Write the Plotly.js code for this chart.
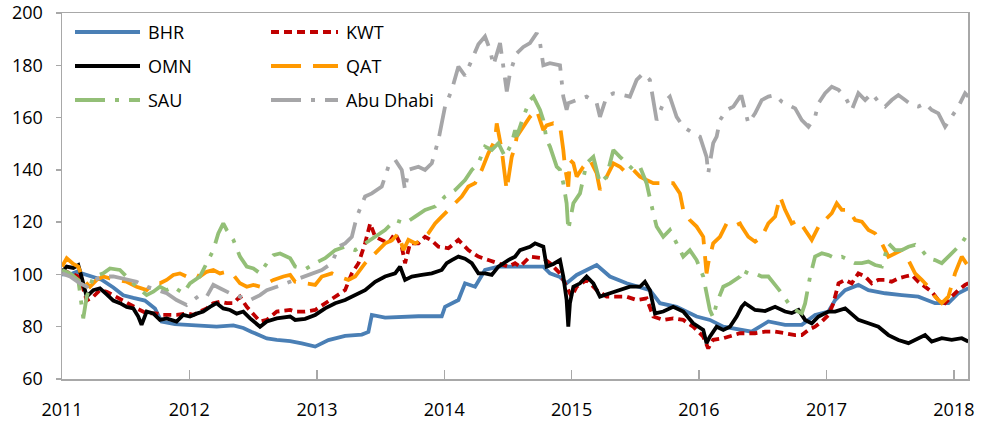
<!DOCTYPE html>
<html>
<head>
<meta charset="utf-8">
<script src="https://cdn.plot.ly/plotly-3.0.1.min.js"></script>
<style>
  html, body { margin: 0; padding: 0; background: #ffffff; }
  #chart { width: 983px; height: 426px; }
</style>
</head>
<body>
<div id="chart"></div>
<script>
// ---- Data (time in decimal years, values = index, Jan 2011 = 100) ----
const seriesNames = ["BHR", "KWT", "OMN", "QAT", "SAU", "Abu Dhabi"];
const xTickLabels = ["2011", "2012", "2013", "2014", "2015", "2016", "2017", "2018"];

const bhrT = [2011.0,2011.063,2011.115,2011.233,2011.311,2011.403,2011.481,2011.560,2011.651,2011.730,2011.782,2011.887,2012.031,2012.214,2012.345,2012.423,2012.489,2012.554,2012.607,2012.685,2012.790,
  2012.881,2012.986,2013.090,2013.221,2013.352,2013.404,2013.431,2013.535,2013.797,2013.980,2014.006,2014.111,2014.163,2014.242,2014.320,2014.425,2014.556,
  2014.778,2014.830,2014.909,2014.961,2015.040,2015.197,2015.301,2015.432,2015.615,2015.694,2015.825,2015.982,2016.086,2016.191,2016.322,
  2016.413,2016.544,2016.675,2016.806,2016.910,2017.015,2017.067,2017.146,2017.250,2017.329,2017.460,2017.591,2017.721,2017.852,2017.957,2018.035,2018.114];
const bhrV = [100,100,101,99,98,95,92,91,90,87,82,81,80.5,80,80.5,79.5,78,76.5,75.5,75,74.5,
  73.6,72.4,74.9,76.5,77,78,84.5,83.5,84,84,87.6,90.2,96.6,95.3,101.7,103,103,
  103,100.4,99,96.6,99.8,103.6,99.2,96.6,94,89,87.6,83.9,82.6,80,78.7,
  78.1,82,80.7,80.7,84.5,85.8,90.2,94,96,94,92.8,92.1,91.5,89,89,92.8,94.7];

const kwtT = [2011.0,2011.063,2011.141,2011.194,2011.246,2011.298,2011.351,2011.403,2011.508,2011.612,2011.665,2011.743,2011.795,2011.900,2011.979,2012.031,2012.083,2012.136,2012.188,2012.240,2012.293,2012.345,2012.397,2012.450,2012.554,2012.607,2012.685,2012.790,
  2012.829,2012.907,2012.986,2013.064,2013.143,2013.221,2013.274,2013.326,2013.378,2013.418,2013.457,2013.509,2013.561,2013.614,2013.666,2013.692,2013.731,2013.797,2013.849,2013.902,2013.954,2014.032,2014.111,2014.189,2014.268,2014.346,2014.425,2014.503,2014.556,
  2014.595,2014.673,2014.778,2014.830,2014.909,2014.961,2015.000,2015.040,2015.118,2015.197,2015.275,2015.354,2015.432,2015.511,2015.589,2015.642,2015.720,2015.798,2015.877,2015.955,2016.034,2016.073,2016.112,2016.191,2016.270,2016.322,
  2016.361,2016.440,2016.518,2016.597,2016.675,2016.754,2016.806,2016.858,2016.910,2016.963,2017.015,2017.054,2017.094,2017.146,2017.198,2017.250,2017.303,2017.355,2017.407,2017.460,2017.512,2017.564,2017.617,2017.669,2017.721,2017.774,2017.826,2017.878,2017.931,2017.983,2018.035,2018.088,2018.114];
const kwtV = [101.7,100.4,99,90,91.5,94,93.4,92,89,86.4,85.1,85.1,84.5,84.5,85.1,84.5,85.8,87,89,89.6,89,89,91.5,87.6,82,82.6,85.8,86.4,
  85.8,85.8,86.4,89,91.5,94,100.4,104.3,111.9,119.5,114.4,113.2,111.9,115.7,110.6,104.3,111.9,111.9,114.4,113,110.6,110,113.2,109.3,106.8,105.5,104.3,103,104.3,
  103,106.8,106.2,104.3,100.4,95.3,91.5,95.3,97.9,94,91.5,91.5,91.5,90.2,90.8,83.9,82.6,83.2,82.6,80,76.2,71.7,75,75.6,76.8,77.5,
  77.5,77.5,78.1,78.1,77.5,76.8,76.8,78.8,80,82,84.5,89,96.6,97.9,96.6,100.4,99.2,96.6,97.9,97.9,97.2,98.5,99.2,99.8,97.2,95.3,93.4,90.2,89,91.5,94,96,96.6];

const omnT = [2011.0,2011.037,2011.089,2011.128,2011.154,2011.194,2011.246,2011.298,2011.351,2011.403,2011.455,2011.508,2011.560,2011.599,2011.625,2011.665,2011.717,2011.769,2011.822,2011.900,2011.952,2012.005,2012.057,2012.109,2012.162,2012.214,2012.266,2012.319,2012.371,2012.423,2012.476,2012.554,2012.607,2012.685,2012.790,
  2012.829,2012.907,2012.986,2013.064,2013.143,2013.221,2013.300,2013.378,2013.457,2013.535,2013.614,2013.653,2013.692,2013.745,2013.823,2013.902,2013.980,2014.019,2014.059,2014.111,2014.163,2014.216,2014.268,2014.320,2014.373,2014.425,2014.503,2014.556,
  2014.595,2014.673,2014.713,2014.778,2014.804,2014.857,2014.909,2014.935,2014.961,2014.974,2014.987,2015.014,2015.066,2015.118,2015.171,2015.223,2015.301,2015.380,2015.458,2015.537,2015.576,2015.615,2015.655,2015.720,2015.798,2015.877,2015.955,2016.034,2016.060,2016.086,2016.139,2016.191,2016.243,2016.296,2016.322,
  2016.335,2016.361,2016.440,2016.518,2016.597,2016.675,2016.727,2016.780,2016.832,2016.884,2016.937,2017.015,2017.067,2017.146,2017.198,2017.250,2017.329,2017.407,2017.486,2017.564,2017.643,2017.721,2017.774,2017.826,2017.905,2017.983,2018.062,2018.114];
const omnV = [101,103,102.5,103.6,99,91.5,94,94.7,92.4,90,89,87.6,87,83.9,80.7,85.8,85.1,82.6,83.2,82,84.5,83.9,85,85.8,87.6,89,87,86.4,85,85.8,83.2,80,82,83.2,83.9,
  82.6,83,84.5,87,89,90.2,92.1,94,97.2,99.2,100.4,103,97.9,99.2,99.8,100.4,101.7,104.3,105.5,106.8,106,104.3,100.4,100.4,99.8,103,105.5,106.8,
  109.3,110.6,111.9,110.6,103,104,105.5,99.2,90.2,80,89,95.3,96.6,99.2,96.6,91.5,92.8,94,95.3,95.3,97.2,94,85.1,85.8,87.6,85.8,81.3,78.8,73.7,76.2,80,78.8,80,83.9,86.4,
  87.6,89,86.4,86,87.6,85.8,85.2,86.4,82.6,81.3,83.9,85.8,85.8,87,85,82.6,81.3,80,76.8,74.9,73.7,75.6,76.8,74.3,75.6,75,75.6,74.3];

const qatT = [2011.0,2011.037,2011.089,2011.128,2011.167,2011.220,2011.272,2011.324,2011.377,2011.429,2011.508,2011.586,2011.665,2011.717,2011.769,2011.822,2011.874,2011.926,2011.979,2012.031,2012.083,2012.136,2012.188,2012.240,2012.293,2012.345,2012.397,2012.450,2012.502,2012.554,2012.607,2012.659,2012.737,2012.790,
  2012.829,2012.907,2012.986,2013.038,2013.117,2013.169,2013.247,2013.300,2013.378,2013.431,2013.483,2013.535,2013.588,2013.640,2013.679,2013.718,2013.771,2013.823,2013.875,2013.928,2013.980,2014.032,2014.085,2014.137,2014.189,2014.242,2014.294,2014.346,2014.399,2014.412,2014.451,2014.477,2014.490,2014.530,2014.556,
  2014.569,2014.621,2014.673,2014.726,2014.778,2014.804,2014.857,2014.909,2014.922,2014.935,2014.948,2014.974,2014.987,2015.014,2015.040,2015.092,2015.145,2015.197,2015.223,2015.275,2015.328,2015.380,2015.432,2015.485,2015.537,2015.589,2015.642,2015.694,2015.746,2015.798,2015.851,2015.877,2015.929,2015.982,2016.034,2016.060,2016.073,2016.112,2016.165,2016.217,2016.270,2016.322,
  2016.335,2016.387,2016.440,2016.492,2016.544,2016.597,2016.636,2016.675,2016.727,2016.780,2016.832,2016.884,2016.937,2016.989,2017.041,2017.080,2017.120,2017.172,2017.224,2017.277,2017.329,2017.381,2017.434,2017.486,2017.538,2017.591,2017.643,2017.695,2017.748,2017.800,2017.852,2017.905,2017.957,2018.009,2018.062,2018.114];
const qatV = [103,106.2,104,103,97.9,95.3,97.9,99.2,98.5,97.9,97.2,95.3,94,96.6,96.6,97.9,99.8,100.4,99.2,100.4,99.2,101,101.7,100.4,101,99.8,96.6,95.3,96,95.3,96.6,97.9,99.2,99.8,
  97.2,96.6,96,99.2,100.4,99.2,97.9,99.2,104.3,106.8,109.3,111.9,113,115.7,109.3,113.2,111.9,113.2,115.7,119.5,122.1,124.7,127.2,129.8,133.6,134.9,140,146.3,151.4,157.8,147.6,137.4,132.3,145,148.9,
  152.7,156.5,160.3,162.9,155.2,157,157.8,157,152.7,147.6,141.2,133.6,143.8,142.5,137.4,141.2,143.8,138.7,132.3,137.4,142.5,141.2,138.7,140,137.4,136.1,134.9,134.9,134.9,134.9,131,124.7,120.8,118.3,114.4,100.4,104.3,111.9,114.4,119.5,118.3,119.5,
  118.3,114.4,112.5,114.4,119.5,122.1,129.8,124.7,119.5,120.8,117,113.2,118.3,120.8,123.4,127.2,124.7,124.7,120.8,120.2,117,115.7,111.9,106.8,108,109.3,105.5,100.4,97.9,95.3,91.5,89,91.5,100.4,106.8,103];

const sauT = [2011.0,2011.063,2011.128,2011.167,2011.194,2011.246,2011.324,2011.377,2011.455,2011.508,2011.586,2011.665,2011.717,2011.769,2011.822,2011.874,2011.952,2012.005,2012.083,2012.136,2012.188,2012.227,2012.266,2012.293,2012.345,2012.397,2012.450,2012.502,2012.554,2012.607,2012.659,2012.711,2012.790,
  2012.829,2012.907,2012.986,2013.064,2013.143,2013.221,2013.300,2013.378,2013.457,2013.535,2013.614,2013.692,2013.771,2013.849,2013.928,2014.006,2014.085,2014.163,2014.216,2014.268,2014.320,2014.373,2014.425,2014.477,2014.530,2014.556,
  2014.569,2014.621,2014.673,2014.700,2014.752,2014.778,2014.804,2014.830,2014.883,2014.909,2014.935,2014.961,2014.974,2015.014,2015.066,2015.118,2015.171,2015.223,2015.275,2015.328,2015.380,2015.432,2015.485,2015.537,2015.589,2015.642,2015.668,2015.720,2015.772,2015.825,2015.877,2015.929,2015.982,2016.034,2016.060,2016.086,2016.112,2016.139,2016.191,2016.243,2016.322,
  2016.335,2016.387,2016.440,2016.492,2016.544,2016.597,2016.649,2016.701,2016.754,2016.806,2016.832,2016.871,2016.910,2016.963,2017.015,2017.067,2017.120,2017.172,2017.224,2017.277,2017.329,2017.381,2017.434,2017.486,2017.538,2017.591,2017.643,2017.695,2017.748,2017.800,2017.852,2017.905,2017.957,2018.009,2018.062,2018.101];
const sauV = [101.7,100.4,97.9,83.2,91.5,99.2,100.4,102.3,101.7,99.2,95.3,92.1,93.4,95.3,94,95.3,92.8,96.6,99.2,104.3,109.3,115.7,119.5,117,113.2,106.8,103,102.3,100.4,104.3,107.4,108,106.2,
  103,102,104.3,106.2,109.3,110.6,109.3,111.9,114.4,117,120.8,119.5,122.1,124.7,126,129.8,132.3,136.1,140,142.5,148.9,147.6,150.2,145,150.2,155.2,
  152.7,160.3,166.7,168,162.9,159,151.4,148.9,141.2,140,134.9,127.2,117,127.2,131,142.5,145,134.9,137.4,147.6,145,142.5,140,141.2,134.9,123.4,118.3,114.4,117,111.9,106.8,109.3,105.5,99.2,92.8,86.4,83.5,89,95.3,96.6,99.2,
  101.7,100.4,100.4,99.2,99.2,96,92.8,89,86.4,85.1,88.9,99.2,106.8,108.1,107.4,106.2,106.8,105.5,104.3,104.3,104.9,103.6,103,111.9,109.3,109.3,110.6,111.3,109.3,106.2,105.5,104.3,106.8,109.3,111.9,115];

const adT = [2011.0,2011.063,2011.141,2011.194,2011.246,2011.324,2011.403,2011.508,2011.586,2011.665,2011.743,2011.822,2011.900,2011.979,2012.031,2012.083,2012.136,2012.188,2012.240,2012.319,2012.397,2012.476,2012.554,2012.607,2012.685,2012.790,
  2012.881,2012.960,2013.038,2013.117,2013.169,2013.221,2013.274,2013.313,2013.378,2013.431,2013.509,2013.561,2013.614,2013.666,2013.692,2013.718,2013.797,2013.849,2013.902,2013.954,2014.006,2014.059,2014.111,2014.163,2014.216,2014.268,2014.320,2014.359,2014.386,2014.438,2014.491,2014.516,2014.556,
  2014.569,2014.621,2014.673,2014.726,2014.752,2014.778,2014.830,2014.909,2014.935,2014.961,2014.974,2015.040,2015.118,2015.197,2015.223,2015.275,2015.328,2015.406,2015.458,2015.511,2015.563,2015.615,2015.642,2015.668,2015.720,2015.772,2015.825,2015.877,2015.955,2016.008,2016.060,2016.073,2016.112,2016.139,2016.165,2016.217,2016.270,2016.322,
  2016.335,2016.387,2016.440,2016.492,2016.544,2016.597,2016.649,2016.701,2016.754,2016.806,2016.858,2016.910,2016.937,2016.989,2017.041,2017.094,2017.146,2017.198,2017.250,2017.303,2017.355,2017.407,2017.460,2017.512,2017.564,2017.617,2017.669,2017.721,2017.774,2017.826,2017.878,2017.931,2017.983,2018.035,2018.088,2018.114];
const adV = [100.4,99.2,96.6,95.3,97.9,99.2,99.2,97.9,97.2,95.3,94,92.8,90.2,88.3,90.2,92.1,91.5,96,94.7,92.8,91.5,90.2,92.1,94,95.3,97.2,
  99.2,100.4,101.7,104.3,110.6,111.9,114.4,122.1,129.8,131,133.6,141.2,143.8,140,132.3,140,141.2,140,142.5,151.4,164.2,170.6,179.5,176,182,188,191,186,180,188.5,170,177,183,
  184.6,187,188.5,192.3,188.5,180,180.8,180,168,163,165.5,166.7,168,165.5,160.3,168,169.3,168.6,168,174.4,176.9,174.4,166.7,159,165.5,168,160.3,156.5,154,152.7,145,138.7,150.2,152.7,159,162.9,164.2,168,
  168,157.8,161.6,166.7,168,168.6,166.1,164.8,163.5,159,156.5,160.3,165.5,169.3,171.8,170.6,168,162.9,169.3,166.7,169.3,166.1,164.2,166.7,168.6,166.7,164.8,164.2,165.5,162.9,161.6,156.5,160.3,164.2,169.3,168];

// ---- Helpers ----
function yearToDate(t) {
  const y = Math.floor(t);
  const a = Date.UTC(y, 0, 1), b = Date.UTC(y + 1, 0, 1);
  return new Date(a + (t - y) * (b - a)).toISOString().slice(0, 19).replace('T', ' ');
}

const styles = {
  "BHR":       { color: '#4a7fb5', dash: 'solid' },
  "KWT":       { color: '#c00000', dash: '8px,5px' },
  "OMN":       { color: '#000000', dash: 'solid' },
  "QAT":       { color: '#ff9900', dash: '30px,12px' },
  "SAU":       { color: '#93bf77', dash: '30px,10px,4px,10px' },
  "Abu Dhabi": { color: '#a6a6a8', dash: '30px,10px,4px,10px' }
};
const seriesData = {
  "BHR": [bhrT, bhrV], "KWT": [kwtT, kwtV], "OMN": [omnT, omnV],
  "QAT": [qatT, qatV], "SAU": [sauT, sauV], "Abu Dhabi": [adT, adV]
};

const traces = seriesNames.map(n => ({
  type: 'scatter', mode: 'lines', name: n,
  x: seriesData[n][0].map(yearToDate),
  y: seriesData[n][1],
  line: { color: styles[n].color, width: 3.8, dash: styles[n].dash },
  hoverinfo: 'x+y+name'
}));

// ---- Layout geometry ----
const W = 983, H = 426;
const M = { l: 62, r: 15, t: 13, b: 47 };
const PW = W - M.l - M.r, PH = H - M.t - M.b;
const px = x => (x - M.l) / PW;
const py = y => (H - M.b - y) / PH;

const FONT = '"Open Sans", "Noto Sans", "DejaVu Sans", sans-serif';
const axisColor = '#a8a8a8';

// Custom two-column legend
const legendRows = [
  { name: "BHR", col: 0, row: 0 }, { name: "KWT", col: 1, row: 0 },
  { name: "OMN", col: 0, row: 1 }, { name: "QAT", col: 1, row: 1 },
  { name: "SAU", col: 0, row: 2 }, { name: "Abu Dhabi", col: 1, row: 2 }
];
const colX = [[75, 140, 146], [271, 338, 344]];
const rowY = [32, 66, 100];
const shapes = [], annotations = [];
legendRows.forEach(e => {
  const [x0, x1, xt] = colX[e.col];
  const y = rowY[e.row];
  shapes.push({ type: 'line', xref: 'paper', yref: 'paper',
    x0: px(x0), x1: px(x1), y0: py(y), y1: py(y),
    line: { color: styles[e.name].color, width: 4, dash: styles[e.name].dash } });
  annotations.push({ xref: 'paper', yref: 'paper', x: px(xt), y: py(y),
    xanchor: 'left', yanchor: 'middle', showarrow: false, text: e.name,
    font: { family: FONT, size: 18, color: '#000' } });
});

const layout = {
  width: W, height: H,
  margin: M,
  paper_bgcolor: '#ffffff', plot_bgcolor: '#ffffff',
  showlegend: false,
  font: { family: FONT, size: 18, color: '#000' },
  xaxis: {
    type: 'date',
    range: [yearToDate(2011.0), yearToDate(2018.111)],
    tick0: '2011-01-01', dtick: 'M12', tickformat: '%Y',
    ticks: 'inside', ticklen: 9, tickwidth: 1.5, tickcolor: axisColor,
    showline: true, linecolor: axisColor, linewidth: 1.5, mirror: true,
    showgrid: false, zeroline: false,
    ticklabelstandoff: 14,
    tickfont: { family: FONT, size: 18, color: '#000' }
  },
  yaxis: {
    range: [60, 200], tick0: 60, dtick: 20,
    ticks: 'outside', ticklen: 5, tickwidth: 1.5, tickcolor: axisColor,
    showline: true, linecolor: axisColor, linewidth: 1.5, mirror: true,
    showgrid: false, zeroline: false,
    ticklabelstandoff: 9,
    tickfont: { family: FONT, size: 18, color: '#000' }
  },
  shapes: shapes,
  annotations: annotations
};

Plotly.newPlot('chart', traces, layout, { displayModeBar: false, staticPlot: true });
</script>
</body>
</html>
